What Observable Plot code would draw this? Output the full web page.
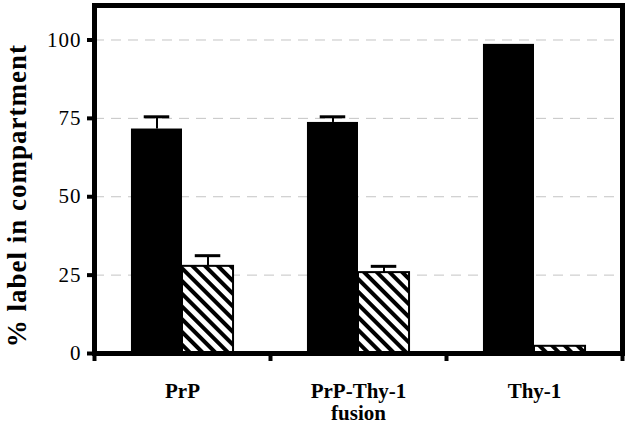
<!DOCTYPE html>
<html><head><meta charset="utf-8">
<script src="https://cdn.jsdelivr.net/npm/d3@7"></script>
<script src="https://cdn.jsdelivr.net/npm/@observablehq/plot@0.6"></script>
<style>
body{margin:0;background:#fff}
#chart svg{font-family:"Liberation Serif",serif;background:#fff}
g[aria-label="y-axis label"] text{font-size:27px;font-weight:bold;letter-spacing:1px}
g[aria-label="y-axis tick label"] text{letter-spacing:1px}
</style></head><body><div id="chart"></div>
<script>
const groups = ["PrP", "PrP-Thy-1\nfusion", "Thy-1"];
const blackValues = [71.6, 73.7, 98.6];
const blackErrors = [3.9, 1.8, 0];
const hatchedValues = [27.8, 25.8, 2.3];
const hatchedErrors = [3.4, 2.0, 0];
const yTicks = [0, 25, 50, 75, 100];
const gridTicks = [25, 50, 75, 100];

const half = 0.29;
const rows = [];
groups.forEach((g, i) => {
  rows.push({group: g, i, series: "black", x1: i - half, x2: i, value: blackValues[i], err: blackErrors[i]});
  rows.push({group: g, i, series: "hatched", x1: i, x2: i + half, value: hatchedValues[i], err: hatchedErrors[i]});
});
const errRows = rows.filter(d => d.err > 0);
const centers = groups.map((g, i) => i);
const boundaries = [-0.5, ...groups.map((g, i) => i + 0.5)];

const plot = Plot.plot({
  width: 629,
  height: 428,
  marginLeft: 94,
  marginRight: 7,
  marginTop: 5,
  marginBottom: 75,
  x: {domain: [-0.5, groups.length - 0.5], label: null},
  y: {domain: [0, 111], label: null},
  marks: [
    Plot.gridY(gridTicks, {stroke: "#c4c4c4", strokeOpacity: 1, strokeDasharray: "10,7", strokeWidth: 1}),
    Plot.rectY(rows.filter(d => d.series === "black"), {x1: "x1", x2: "x2", y1: 0, y2: "value", fill: "black"}),
    Plot.rectY(rows.filter(d => d.series === "hatched"), {x1: "x1", x2: "x2", y1: 0, y2: "value", fill: "url(#hatch)", stroke: "black", strokeWidth: 2}),
    Plot.ruleX(errRows, {x: d => (d.x1 + d.x2) / 2, y1: "value", y2: d => d.value + d.err, stroke: "black", strokeWidth: 2}),
    Plot.ruleY(errRows, {y: d => d.value + d.err, x1: d => (d.x1 + d.x2) / 2 - half / 4, x2: d => (d.x1 + d.x2) / 2 + half / 4, stroke: "black", strokeWidth: 3}),
    Plot.frame({stroke: "black", strokeWidth: 5}),
    Plot.axisY({ticks: yTicks, tickSize: 7, tickPadding: 6, strokeWidth: 4, fontSize: 21,
      label: "% label in compartment", labelAnchor: "center", labelOffset: 88, labelArrow: "none"}),
    Plot.axisX({ticks: boundaries, tickSize: 8, strokeWidth: 4, tickFormat: () => "", label: null}),
    Plot.axisX({ticks: centers, tickSize: 0, tickPadding: 28, tickFormat: i => groups[i], fontSize: 21, fontWeight: "bold", lineHeight: 1.08, label: null})
  ]
});

d3.select(plot).insert("defs", ":first-child").html(
  '<pattern id="hatch" patternUnits="userSpaceOnUse" width="9" height="9" patternTransform="rotate(-45)">' +
  '<rect width="9" height="9" fill="white"/><rect x="0" y="0" width="4" height="9" fill="black"/></pattern>'
);
// nudge the y-axis title down along its rotated baseline, as in the reference
d3.select(plot).selectAll('g[aria-label="y-axis label"] text').attr("dx", "-0.6em");
document.getElementById("chart").appendChild(plot);
</script></body></html>
